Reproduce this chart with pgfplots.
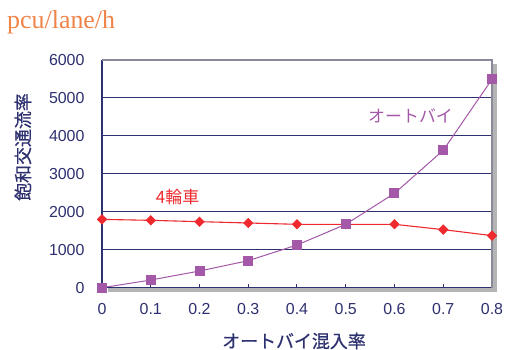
\documentclass[border=0pt]{standalone}
\usepackage{fontspec}
\setmainfont{Liberation Sans}
\newfontfamily\jp[FakeBold=0.6]{Noto Sans CJK JP}
\newfontfamily\jpr{Noto Sans CJK JP}
\newfontfamily\serifttl{Liberation Serif}
\usepackage{pgfplots}
\pgfplotsset{compat=1.18}
\definecolor{navy}{HTML}{2E3170}
\definecolor{carred}{HTML}{EE2A2E}
\definecolor{bikepur}{HTML}{A458A8}
\definecolor{ttlorange}{HTML}{F08448}
\definecolor{shadowgray}{HTML}{B4B4B4}
\definecolor{framegray}{HTML}{8A8A9A}
\begin{document}
\begin{tikzpicture}
\useasboundingbox (0,0) rectangle (505bp,350bp);
\fill[white] (0,0) rectangle (505bp,350bp);
% shadow
\fill[shadowgray] (108bp,58bp) rectangle (497bp,286bp);
\begin{axis}[
  at={(102bp,62.3bp)}, anchor=south west,
  scale only axis, width=390bp, height=227.7bp,
  xmin=0, xmax=0.8, ymin=0, ymax=6000,
  axis background/.style={fill=white},
  axis line style={draw=none},
  xtick={0,0.1,0.2,0.3,0.4,0.5,0.6,0.7,0.8},
  xticklabels={0,0.1,0.2,0.3,0.4,0.5,0.6,0.7,0.8},
  ytick={0,1000,2000,3000,4000,5000,6000},
  yticklabels={0,1000,2000,3000,4000,5000,6000},
  xtick pos=bottom, ytick pos=left,
  tick align=inside,
  major tick length=4bp,
  xtick style={navy, line width=1bp},
  ytick style={draw=none},
  ymajorgrids, major grid style={navy, line width=0.9bp},
  ticklabel style={font=\fontsize{16}{18}\selectfont, text=navy},
  yticklabel style={xshift=-14bp},
  xticklabel style={yshift=-12bp},
  /pgf/number format/assume math mode=true,
  clip=false,
]
\addplot[carred, line width=1.1bp, mark=square*, mark size=3.1bp, mark options={rotate=45, fill=carred, draw=carred}]
  coordinates {(0,1800) (0.1,1775) (0.2,1740) (0.3,1705) (0.4,1670) (0.5,1670) (0.6,1670) (0.7,1530) (0.8,1372)};
\addplot[bikepur, line width=1bp, mark=square*, mark size=4.5bp, mark options={fill=bikepur, draw=bikepur}]
  coordinates {(0,0) (0.1,202) (0.2,440) (0.3,712) (0.4,1125) (0.5,1670) (0.6,2487) (0.7,3620) (0.8,5492)};
\draw[navy, line width=2bp] (rel axis cs:0,0) -- (rel axis cs:0,1);
\draw[navy, line width=1.5bp] (rel axis cs:0,0) -- (rel axis cs:1,0);
\draw[framegray, line width=1.3bp] (rel axis cs:0,1) -- (rel axis cs:1,1) -- (rel axis cs:1,0);
\node[text=bikepur, font=\jpr\fontsize{17}{20}\selectfont] at (axis cs:0.633,4520) {オートバイ};
\node[text=carred, font=\jpr\fontsize{17}{20}\selectfont] at (axis cs:0.155,2390) {4輪車};
\end{axis}
\node[anchor=base west, inner sep=0, text=ttlorange, font=\serifttl\fontsize{26}{28}\selectfont] at (7bp,321bp) {pcu/lane/h};
\node[rotate=90, text=navy, font=\jp\fontsize{18}{20}\selectfont] at (23bp,203bp) {飽和交通流率};
\node[text=navy, font=\jp\fontsize{18}{20}\selectfont] at (294bp,9bp) {オートバイ混入率};
\end{tikzpicture}
\end{document}
